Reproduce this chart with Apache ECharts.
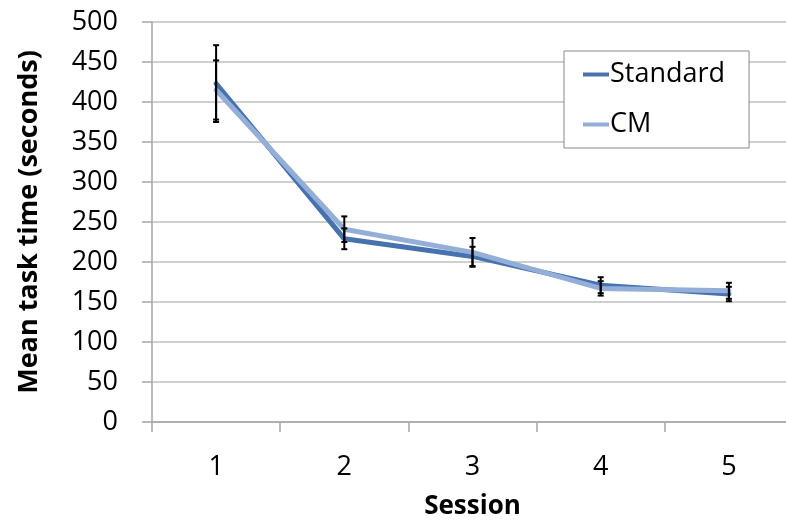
<!DOCTYPE html>
<html>
<head>
<meta charset="utf-8">
<script src="https://cdn.jsdelivr.net/npm/echarts@6/dist/echarts.min.js"></script>
<style>
  html, body { margin: 0; padding: 0; background: #fff; }
  #chart { width: 786px; height: 525px; }
</style>
</head>
<body>
<div id="chart"></div>
<script>
var sessions = ['1', '2', '3', '4', '5'];
var standardMean = [423, 229, 207, 171, 160];
var standardErr = [48, 13, 12, 10, 9];
var cmMean = [415, 241, 212, 167, 164];
var cmErr = [37, 16, 18, 9, 10];

var font = '"Open Sans", "Noto Sans", sans-serif';

// build [x, low, high] rows for the error bar series
function errRows(mean, err) {
    var rows = [];
    for (var i = 0; i < mean.length; i++) {
        rows.push([i, mean[i] - err[i], mean[i] + err[i]]);
    }
    return rows;
}

function drawErr(params, api) {
    var x = api.value(0);
    var lo = api.coord([x, api.value(1)]);
    var hi = api.coord([x, api.value(2)]);
    var w = 3;
    var style = { stroke: '#000', lineWidth: 2 };
    return {
        type: 'group',
        children: [
            { type: 'line', shape: { x1: lo[0], y1: lo[1], x2: hi[0], y2: hi[1] }, style: style },
            { type: 'line', shape: { x1: lo[0] - w, y1: lo[1], x2: lo[0] + w, y2: lo[1] }, style: style },
            { type: 'line', shape: { x1: hi[0] - w, y1: hi[1], x2: hi[0] + w, y2: hi[1] }, style: style }
        ]
    };
}

var chart = echarts.init(document.getElementById('chart'));
var option = {
    animation: false,
    backgroundColor: '#fff',
    grid: { left: 152, top: 22, width: 641, height: 400, outerBoundsMode: 'none', containLabel: false },
    legend: {
        orient: 'vertical',
        left: 564,
        top: 51,
        padding: [10, 24, 10, 19],
        itemGap: 23,
        itemWidth: 26,
        itemHeight: 4,
        icon: 'rect',
        borderColor: '#888',
        borderWidth: 1,
        backgroundColor: '#fff',
        textStyle: { fontFamily: font, fontSize: 27, color: '#000', padding: [0, 0, 0, -4] },
        data: ['Standard', 'CM']
    },
    xAxis: {
        type: 'category',
        data: sessions,
        boundaryGap: true,
        name: 'Session',
        nameLocation: 'middle',
        nameGap: 72,
        nameTextStyle: { fontFamily: font, fontSize: 26, fontWeight: 'bold', color: '#000' },
        axisLine: { lineStyle: { color: '#a6a6a6', width: 1.5 } },
        axisTick: { show: true, length: 10, inside: false, lineStyle: { color: '#a6a6a6', width: 1.5 } },
        axisLabel: { fontFamily: font, fontSize: 27, color: '#000', margin: 32 },
        splitLine: { show: false }
    },
    yAxis: {
        type: 'value',
        min: 0,
        max: 500,
        interval: 50,
        name: 'Mean task time (seconds)',
        nameLocation: 'middle',
        nameGap: 109,
        nameTextStyle: { fontFamily: font, fontSize: 27, fontWeight: 'bold', color: '#000' },
        axisLine: { show: true, lineStyle: { color: '#a6a6a6', width: 1.5 } },
        axisTick: { show: true, length: 10, lineStyle: { color: '#a6a6a6', width: 1.5 } },
        axisLabel: { fontFamily: font, fontSize: 27, color: '#000', margin: 34 },
        splitLine: { lineStyle: { color: '#bfbfbf', width: 1.5 } }
    },
    series: [
        {
            name: 'Standard',
            type: 'line',
            data: standardMean,
            symbol: 'none',
            color: '#4672b0',
            lineStyle: { width: 5, color: '#4672b0', cap: 'round', join: 'round' },
            z: 2
        },
        {
            name: 'CM',
            type: 'line',
            data: cmMean,
            symbol: 'none',
            color: '#93aed8',
            lineStyle: { width: 5, color: '#93aed8', cap: 'round', join: 'round' },
            z: 3
        },
        {
            type: 'custom',
            renderItem: drawErr,
            data: errRows(standardMean, standardErr),
            encode: { x: 0, y: [1, 2] },
            z: 5
        },
        {
            type: 'custom',
            renderItem: drawErr,
            data: errRows(cmMean, cmErr),
            encode: { x: 0, y: [1, 2] },
            z: 5
        }
    ]
};
chart.setOption(option);
</script>
</body>
</html>
